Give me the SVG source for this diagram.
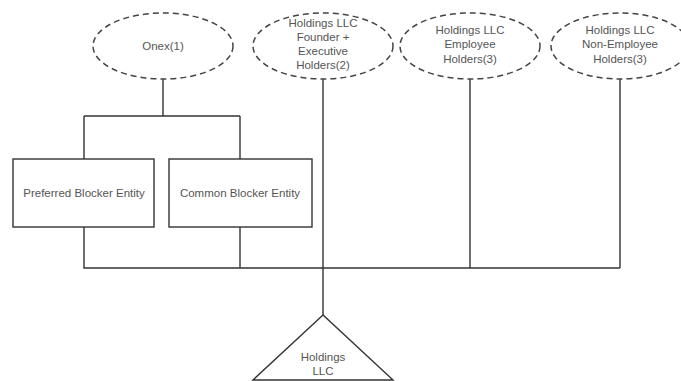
<svg xmlns="http://www.w3.org/2000/svg" width="681" height="381" viewBox="0 0 681 381">
<style>
.ell{fill:#fff;stroke:#444;stroke-width:1.5;stroke-dasharray:6 4}
.box{fill:#fff;stroke:#333;stroke-width:1.4}
.ln{fill:none;stroke:#333;stroke-width:1.4}
text{font-family:"Liberation Sans",Arial,sans-serif;font-size:11.5px;fill:#555;text-anchor:middle}
</style>
<rect width="681" height="381" fill="#fff"/>
<g id="connectors">
<path class="ln" d="M163 79V116M84 116H240M84 116V159M240 116V159"/>
<path class="ln" d="M84 227V268H620M240 227V268"/>
<path class="ln" d="M323 79V315"/>
<path class="ln" d="M470 79V268"/>
<path class="ln" d="M620 79V268"/>
</g>
<g id="onex">
<ellipse class="ell" cx="163" cy="46" rx="70" ry="33"/>
<text x="163" y="50">Onex(1)</text>
</g>
<g id="founder">
<ellipse class="ell" cx="323" cy="46" rx="70" ry="33"/>
<text x="323" y="27">Holdings LLC</text>
<text x="323" y="41">Founder +</text>
<text x="323" y="55">Executive</text>
<text x="323" y="69">Holders(2)</text>
</g>
<g id="employee">
<ellipse class="ell" cx="470" cy="46" rx="70" ry="33"/>
<text x="470" y="34">Holdings LLC</text>
<text x="470" y="48">Employee</text>
<text x="470" y="63">Holders(3)</text>
</g>
<g id="nonemployee">
<ellipse class="ell" cx="620" cy="46" rx="69" ry="33"/>
<text x="620" y="34">Holdings LLC</text>
<text x="620" y="48">Non-Employee</text>
<text x="620" y="63">Holders(3)</text>
</g>
<g id="preferred">
<rect class="box" x="13" y="159" width="141" height="68"/>
<text x="84" y="197">Preferred Blocker Entity</text>
</g>
<g id="common">
<rect class="box" x="169" y="159" width="143" height="68"/>
<text x="240" y="197">Common Blocker Entity</text>
</g>
<g id="holdings">
<path class="box" d="M323 315L253 380H393Z"/>
<text x="323" y="361">Holdings</text>
<text x="323" y="375">LLC</text>
</g>
</svg>
